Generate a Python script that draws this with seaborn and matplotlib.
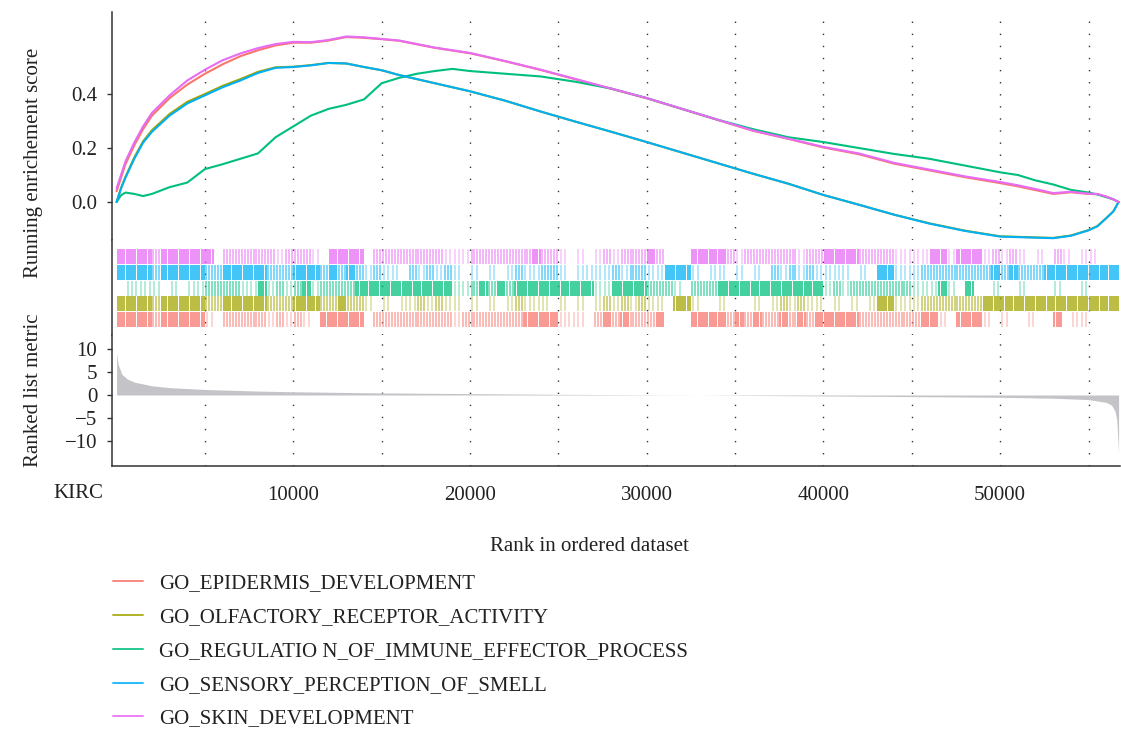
import matplotlib
matplotlib.use("Agg")
import matplotlib.pyplot as plt
from matplotlib.ticker import FixedLocator
import numpy as np
import pandas as pd
import seaborn as sns

# ---------------------------------------------------------------- data
gene_sets = [
    "GO_EPIDERMIS_DEVELOPMENT",
    "GO_OLFACTORY_RECEPTOR_ACTIVITY",
    "GO_REGULATIO N_OF_IMMUNE_EFFECTOR_PROCESS",
    "GO_SENSORY_PERCEPTION_OF_SMELL",
    "GO_SKIN_DEVELOPMENT",
]
set_colors = ["#F8766D", "#A3A500", "#00BF7D", "#00B0F6", "#E76BF3"]

dataset_name = "KIRC"
x_major = [10000, 20000, 30000, 40000, 50000]
x_minor = [5000, 15000, 25000, 35000, 45000, 55000]

# running enrichment score, sampled along the ranked list
es_rank = [0, 250, 500, 1000, 1500, 2000,
           3000, 4000, 5000, 6000, 7000, 8000, 9000, 10000, 11000, 12000,
           13000, 14000, 15000, 16000, 17000, 18000, 19000, 20000,
           22000, 24000, 26000, 28000, 30000, 32000, 34000, 36000, 38000,
           40000, 42000, 44000, 46000, 48000, 50000,
           51000, 52000, 53000, 54000, 55000,
           55500, 56000, 56400, 56700]
es_epidermis = [0.04, 0.09, 0.14, 0.21, 0.27, 0.32,
                0.385, 0.435, 0.475, 0.51, 0.54, 0.562, 0.58, 0.59, 0.59, 0.598,
                0.611, 0.608, 0.603, 0.597, 0.584, 0.571, 0.561, 0.551,
                0.521, 0.489, 0.454, 0.419, 0.384, 0.344, 0.304, 0.264, 0.234,
                0.202, 0.177, 0.142, 0.117, 0.092, 0.07,
                0.058, 0.044, 0.03, 0.036, 0.03,
                0.029, 0.02, 0.01, 0.0]
es_olfactory = [0.0, 0.052, 0.093, 0.165, 0.225, 0.266,
                0.326, 0.371, 0.40, 0.43, 0.455, 0.482, 0.499, 0.501, 0.507, 0.515,
                0.513, 0.50, 0.488, 0.47, 0.455, 0.44, 0.425, 0.41,
                0.375, 0.335, 0.297, 0.26, 0.222, 0.183, 0.144, 0.105, 0.068,
                0.026, -0.01, -0.047, -0.079, -0.106, -0.127,
                -0.129, -0.131, -0.133, -0.124, -0.104,
                -0.089, -0.06, -0.035, 0.0]
es_immune = [0.0, 0.025, 0.035, 0.03, 0.022, 0.03,
             0.055, 0.072, 0.122, 0.14, 0.16, 0.18, 0.24, 0.28, 0.32, 0.345,
             0.36, 0.38, 0.44, 0.46, 0.475, 0.485, 0.493, 0.485,
             0.475, 0.465, 0.445, 0.42, 0.385, 0.345, 0.305, 0.27, 0.24,
             0.222, 0.2, 0.178, 0.16, 0.135, 0.11,
             0.1, 0.08, 0.065, 0.045, 0.035,
             0.028, 0.018, 0.01, 0.0]
es_smell = [0.0, 0.05, 0.09, 0.16, 0.22, 0.26,
            0.32, 0.365, 0.395, 0.425, 0.45, 0.478, 0.497, 0.50, 0.506, 0.515,
            0.513, 0.50, 0.488, 0.47, 0.455, 0.44, 0.425, 0.41,
            0.375, 0.335, 0.297, 0.26, 0.222, 0.183, 0.144, 0.105, 0.068,
            0.026, -0.01, -0.047, -0.08, -0.107, -0.128,
            -0.13, -0.132, -0.134, -0.125, -0.105,
            -0.09, -0.06, -0.035, 0.0]
es_skin = [0.05, 0.10, 0.15, 0.22, 0.28, 0.33,
           0.395, 0.45, 0.49, 0.525, 0.55, 0.57, 0.585, 0.593, 0.592, 0.60,
           0.613, 0.61, 0.604, 0.598, 0.585, 0.572, 0.562, 0.552,
           0.522, 0.49, 0.455, 0.42, 0.385, 0.345, 0.305, 0.265, 0.235,
           0.204, 0.18, 0.145, 0.12, 0.095, 0.074,
           0.062, 0.048, 0.033, 0.038, 0.031,
           0.03, 0.02, 0.01, 0.0]

# hit density of each gene set along the ranked list, one digit per 500 ranks
# (0 = no hits, 1 = sparse, 2 = moderate, 3 = dense)
hit_bin = 500
hits_epidermis = ("3333233333" "10" "22222" "1" "2121" "0" "33333" "0"
                  "22222222" "212" "222222" "3333" "111" "0" "23232223"
                  "000" "3333" "23232232323" "3333" "2222222" "33" "10"
                  "333" "1010" "010030110" "000")
hits_olfactory = ("3333" "2" "33333" "22" "33333" "222" "333" "22322"
                  "10101" "12121" "1010101" "211" "10" "1010" "121212"
                  "110" "33" "100" "100010" "12121" "1010101" "33" "111"
                  "2222222" "3333333333333333")
hits_immune = ("01" "11" "10101" "12" "222" "11" "3" "1212" "3" "1"
               "2222" "33333" "3" "33333" "11" "23232" "33333" "3333"
               "11" "3333" "222" "10" "222" "333333" "333333" "1212"
               "222222" "111" "3" "10" "3" "00100100010010000")
hits_smell = ("3333" "2" "33333" "22" "33333" "222" "333" "23232" "121"
              "10" "21212" "1010101" "211" "22" "101" "111" "2122" "11"
              "333" "101" "101010" "21212" "111" "1010" "33" "111" "22"
              "22222" "2323" "222" "3333" "33333")
hits_skin = ("3333" "2" "333333" "0" "22222" "21222" "10" "3333" "0"
             "22222222" "1" "11" "222222" "2322" "10101" "2122232" "000"
             "3333" "2122" "2222122" "3333" "22221" "111" "33" "1" "333"
             "1212" "101021011" "000")

# ranked list metric (signal-to-noise of each gene)
metric_rank = [0, 100, 300, 600, 1000, 2000, 3000, 5000, 8000, 10000,
               15000, 20000, 25000, 30000, 33000, 36000, 40000, 45000,
               50000, 53000, 55000, 56000, 56300, 56500, 56600, 56700]
metric_value = [9.0, 6.5, 4.5, 3.5, 2.8, 2.0, 1.6, 1.2, 0.85, 0.7,
                0.45, 0.3, 0.15, 0.05, 0.0, -0.1, -0.2, -0.35,
                -0.5, -0.7, -1.0, -1.6, -2.2, -3.5, -5.5, -12.5]

es_values = [es_epidermis, es_olfactory, es_immune, es_smell, es_skin]
hit_strings = [hits_epidermis, hits_olfactory, hits_immune, hits_smell, hits_skin]

# ---------------------------------------------------------------- style
sns.set_style("white")
plt.rcParams["font.family"] = ["Liberation Serif", "DejaVu Serif"]
plt.rcParams["axes.unicode_minus"] = True
text_color = "#222222"
spine_color = "#333333"
fs = 15

fig = plt.figure(figsize=(11.21, 7.29), dpi=100)
W, H = 1121.0, 729.0


def box(x0, y0, x1, y1):
    """Axes rectangle from pixel edges (top-left origin)."""
    return [x0 / W, 1 - y1 / H, (x1 - x0) / W, (y1 - y0) / H]


ax_es = fig.add_axes(box(112, 12, 1120, 240))
ax_hit = fig.add_axes(box(112, 240, 1120, 335), sharex=ax_es)
ax_rank = fig.add_axes(box(112, 335, 1120, 466), sharex=ax_es)

# ---------------------------------------------------------------- running ES
es_df = pd.DataFrame({
    "rank": np.tile(es_rank, len(gene_sets)),
    "es": np.concatenate(es_values),
    "gene_set": np.repeat(gene_sets, len(es_rank)),
})
sns.lineplot(data=es_df, x="rank", y="es", hue="gene_set", hue_order=gene_sets,
             palette=set_colors, estimator=None, sort=False, linewidth=1.5,
             ax=ax_es)
handles, labels = ax_es.get_legend_handles_labels()
ax_es.get_legend().remove()
ax_es.set_ylim(-0.1407, 0.7037)
ax_es.yaxis.set_major_locator(FixedLocator([0.0, 0.2, 0.4]))
ax_es.yaxis.set_major_formatter(plt.FuncFormatter(lambda v, p: f"{v:.1f}"))
ax_es.set_xlabel("")
ax_es.set_ylabel("Running enrichement score", fontsize=fs, color=text_color,
                 va="center")
ax_es.yaxis.set_label_coords(-0.078, 0.34)

# ---------------------------------------------------------------- hit barcode
level_lines = {1: 2, 2: 3, 3: 4}
level_alpha = {1: 0.3, 2: 0.5, 3: 0.75}
for row, (hits, color) in enumerate(zip(hit_strings, set_colors)):
    for level in (1, 2, 3):
        n = level_lines[level]
        xs = []
        for i, ch in enumerate(hits):
            if int(ch) == level:
                xs.extend((i + (j + 0.5) / n) * hit_bin for j in range(n))
        if xs:
            ax_hit.vlines(xs, row + 0.02, row + 0.98, color=color,
                          alpha=level_alpha[level], linewidth=1.4)
ax_hit.set_ylim(-0.51, 5.58)
ax_hit.set_yticks([])

# ---------------------------------------------------------------- ranked metric
ax_rank.fill_between(metric_rank, 0, metric_value, color="#c4c4c8",
                     linewidth=0)
ax_rank.set_ylim(-15.43, 13.04)
ax_rank.yaxis.set_major_locator(FixedLocator([10, 5, 0, -5, -10]))
ax_rank.set_ylabel("Ranked list metric", fontsize=fs, color=text_color,
                   va="center")
ax_rank.yaxis.set_label_coords(-0.078, 0.58)
ax_rank.set_xlabel("Rank in ordered dataset", fontsize=fs, color=text_color,
                   va="center")
ax_rank.xaxis.set_label_coords(0.474, -0.615)

# ---------------------------------------------------------------- shared x axis
ax_es.set_xlim(-260, 56780)
ax_rank.xaxis.set_major_locator(FixedLocator(x_major))
ax_rank.xaxis.set_minor_locator(FixedLocator(x_minor))

dots = (0, (1, 7.7))
for ax in (ax_es, ax_hit, ax_rank):
    ax.set_facecolor("white")
    for side in ("top", "right"):
        ax.spines[side].set_visible(False)
    ax.spines["left"].set_color(spine_color)
    ax.spines["left"].set_linewidth(1.1)
    ax.xaxis.grid(True, which="both", linestyle=dots, color="#333333",
                  linewidth=1.0)
    ax.yaxis.grid(False)
    ax.tick_params(axis="both", which="minor", length=0)
    ax.tick_params(axis="y", which="major", direction="out", length=3.5,
                   width=1.0, color=spine_color, pad=7, labelsize=fs,
                   labelcolor=text_color, left=True)
    ax.set_axisbelow(True)

for ax in (ax_es, ax_hit):
    ax.spines["bottom"].set_visible(False)
    ax.tick_params(axis="x", which="both", bottom=False, labelbottom=False)

ax_hit.tick_params(axis="y", left=False)
ax_rank.spines["bottom"].set_color(spine_color)
ax_rank.spines["bottom"].set_linewidth(1.1)
ax_rank.tick_params(axis="x", which="major", direction="out", length=3.5,
                    width=1.0, color=spine_color, pad=11, labelsize=fs,
                    labelcolor=text_color)

fig.text(78 / W, 1 - 493 / H, dataset_name, fontsize=fs, color=text_color,
         ha="center", va="center")

# ---------------------------------------------------------------- legend
leg = fig.legend(handles, labels, loc="upper left",
                 bbox_to_anchor=(113 / W, 1 - 574 / H), frameon=False,
                 fontsize=fs, handlelength=1.45, handletextpad=0.75,
                 labelspacing=0.68, borderpad=0, borderaxespad=0)
for line in leg.get_lines():
    line.set_linewidth(1.4)
    line.set_alpha(0.85)
for t in leg.get_texts():
    t.set_color(text_color)

fig.savefig("out.png", dpi=100, facecolor="white")
